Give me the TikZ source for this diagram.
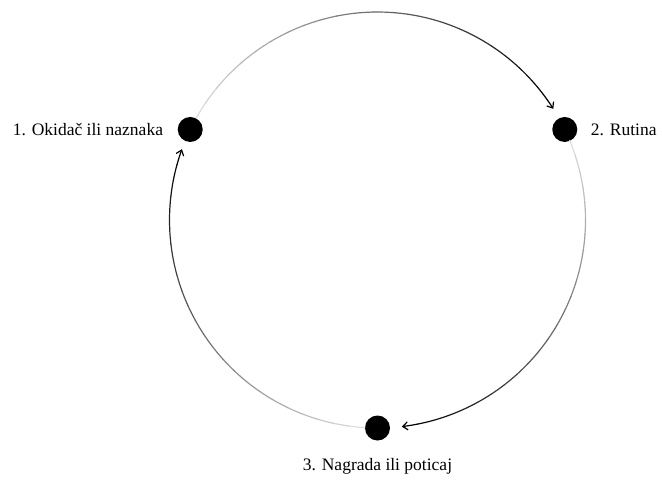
\documentclass[tikz,border=0pt]{standalone}
\usepackage{fontspec}
\setmainfont{Liberation Serif}
\usetikzlibrary{arrows.meta, positioning, calc}

\begin{document}
\begin{tikzpicture}[x=1pt, y=1pt, >={Straight Barb[length=5pt, width=8pt, line width=1.2pt]},
          node distance=12pt,
          every node/.style={font=\fontsize{17.5}{21}\selectfont},
          dot/.style={circle, fill=black, minimum size=25pt, inner sep=0pt},
          ring/.style={line width=1.2pt, line cap=round}]
        \useasboundingbox (0,0) rectangle (662,-483);
        \coordinate (c) at (377.5,-220);
        \node[dot] (trig) at ($(c)+(154.2:208)$) {};
        \node[dot] (rout) at ($(c)+(25.8:208)$)  {};
        \node[dot] (rew)  at ($(c)+(270:208)$)   {};
        \node[left=11pt of trig]  (trigtxt) {1. Okidač ili naznaka};
        \node[right=10pt of rout] (routtxt) {2. Rutina};
        \node[below=14pt of rew]  (rewtxt)  {3. Nagrada ili poticaj};
        % each arc fades in from grey to black, drawn in pieces
        \foreach \a/\b in {150.7/32.3, 22.5/-83.3, 266.5/160.1} {
          \foreach \i in {1,...,23} {
            \pgfmathsetmacro\s{\a+(\b-\a)*(\i-1)/24}
            \pgfmathsetmacro\e{\a+(\b-\a)*\i/24}
            \pgfmathsetmacro\k{10+90*\i/24}
            \draw[ring, black!\k] ($(c)+(\s:208)$) arc[start angle=\s, end angle=\e, radius=208];
          }
          \pgfmathsetmacro\s{\a+(\b-\a)*23/24}
          \draw[ring, ->] ($(c)+(\s:208)$) arc[start angle=\s, end angle=\b, radius=208];
        }
      \end{tikzpicture}
\end{document}
